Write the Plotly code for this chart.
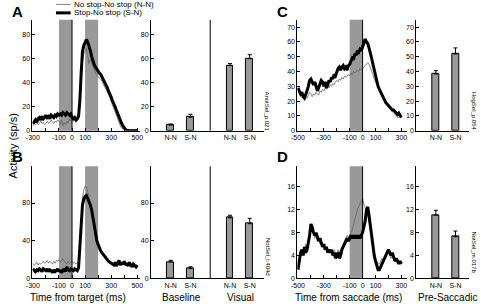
import plotly.graph_objects as go

W, H = 481, 307

# ---------------- data ----------------
t_target = list(range(-300, 501, 10))
t_sacc = list(range(-500, 301, 10))

A_SN = [6, 8, 9, 7, 10, 11, 9, 12, 10, 11, 13, 11, 12, 10, 13, 12, 11, 13, 12, 14,
        13, 14, 13, 15, 14, 13, 15, 14, 13, 14, 11, 10, 11, 9, 10, 12, 25, 48, 66, 71,
        73, 76, 74, 71, 67, 62, 58, 55, 53, 51, 50, 48, 47, 45, 43, 41, 39, 36, 33, 31,
        28, 25, 23, 20, 17, 14, 11, 8, 6, 4, 2, 1, 0.5, 0, 0, 0, 0, 0, 0, 0, 0]
A_NN = [4, 6, 5, 7, 5, 6, 8, 6, 7, 5, 6, 8, 6, 7, 9, 7, 6, 8, 7, 9,
        8, 5, 9, 4, 7, 5, 8, 6, 10, 8, 9, 8, 9, 7, 9, 10, 20, 40, 58, 64,
        67, 69, 63, 56, 60, 57, 54, 50, 48, 46, 45, 44, 43, 41, 39, 37, 35, 33, 30, 27,
        24, 21, 18, 15, 12, 9, 6, 4, 2, 1.5, 1, 1, 1, 1, 1, 1, 1, 1, 1, 1, 1]

B_SN = [10, 8, 7, 9, 8, 10, 9, 7, 10, 9, 8, 10, 7, 9, 8, 6, 9, 7, 8, 10,
        7, 9, 6, 8, 10, 7, 12, 9, 8, 10, 9, 8, 10, 9, 8, 11, 30, 60, 78, 84,
        87, 88, 85, 82, 78, 73, 65, 55, 47, 40, 36, 32, 29, 27, 25, 24, 22, 20, 18, 17,
        16, 15, 14, 17, 13, 16, 19, 14, 17, 15, 18, 14, 16, 13, 17, 14, 12, 15, 13, 12, 14]
B_NN = [16, 14, 15, 17, 14, 16, 15, 17, 18, 16, 17, 19, 16, 18, 17, 15, 18, 16, 19, 18,
        20, 17, 19, 21, 18, 17, 15, 18, 16, 17, 18, 16, 17, 15, 17, 18, 35, 65, 85, 94,
        98, 97, 93, 87, 80, 74, 66, 57, 49, 42, 37, 33, 30, 27, 25, 23, 21, 20, 19, 17,
        16, 15, 14, 16, 15, 14, 16, 17, 15, 14, 16, 15, 14, 13, 15, 14, 13, 12, 13, 12, 11]

C_SN = [29, 27, 25, 26, 23, 22, 24, 27, 30, 34, 35, 33, 31, 33, 30, 27, 29, 32, 34, 33,
        30, 33, 29, 31, 34, 33, 36, 35, 38, 37, 40, 42, 43, 41, 43, 44, 42, 43, 41, 44,
        45, 47, 49, 48, 52, 51, 54, 53, 55, 54, 57, 60, 62, 60, 59, 56, 53, 49, 45, 41,
        38, 34, 30, 28, 26, 25, 23, 21, 19, 18, 17, 16, 15, 14, 14, 13, 12, 11, 12, 10, 9]
C_NN = [27, 25, 23, 24, 22, 21, 23, 22, 24, 26, 25, 23, 25, 24, 26, 25, 24, 27, 26, 28,
        27, 29, 28, 30, 29, 31, 30, 32, 31, 33, 34, 33, 35, 34, 36, 35, 37, 36, 37, 38,
        37, 39, 38, 40, 39, 40, 41, 40, 42, 41, 42, 43, 44, 45, 46, 45, 43, 41, 38, 35,
        33, 31, 29, 27, 25, 23, 21, 20, 18, 17, 16, 15, 14, 13, 12, 11, 10, 9, 9, 10, 9]

D_SN = [1.5, 3, 4.5, 5, 4, 5.5, 4.5, 5, 6, 7.5, 9.5, 9, 8, 7.5, 8, 7, 6.5, 7, 6, 5.5,
        6, 5, 5.5, 4.5, 5, 4.5, 5, 4, 4.5, 3.5, 4, 4.5, 3.5, 4, 5, 5.5, 6, 6.5, 7, 6.5,
        7, 7.5, 7, 7.5, 7, 7.5, 7, 7.5, 7, 7.5, 8, 9, 10, 12, 12.5, 11, 9, 7, 5.5, 4,
        3, 2, 1.5, 1.5, 2, 2.5, 3, 3.5, 4, 4.5, 5, 4.5, 4, 4.5, 3.5, 3, 3.5, 3, 2.5, 3, 2.5]
D_NN = [3, 2.5, 4, 5, 4.5, 5, 6, 5.5, 6.5, 8, 9, 8.5, 8, 7, 7.5, 6.5, 7, 6, 6.5, 5.5,
        6, 5, 5.5, 5, 4.5, 5, 4.5, 4, 5, 4.5, 4, 5, 4.5, 5, 5.5, 6, 6.5, 7, 7.5, 7,
        7.5, 8, 8.5, 9.5, 10.5, 11, 12, 12.5, 13, 13.5, 14, 13, 12, 11.5, 11, 10, 8.5, 7, 5.5, 4.5,
        3.5, 3, 2.5, 2.5, 3, 3.5, 3, 3.5, 4, 4.5, 4.5, 4, 3.5, 4, 3.5, 3, 3, 3.5, 3, 2.5, 2.5]

bar_cats = ["N-N", "S-N"]
A_base = [4.7, 11.3]; A_base_err = [0.8, 2.4]
A_vis = [54.3, 60.1]; A_vis_err = [1.7, 3.3]
B_base = [17.4, 10.4]; B_base_err = [1.7, 1.8]
B_vis = [64.3, 58.0]; B_vis_err = [2.7, 5.7]
C_pre = [38.4, 51.9]; C_pre_err = [2.2, 4.1]
D_pre = [11.05, 7.27]; D_pre_err = [0.85, 1.0]

target_ticks = list(range(-300, 501, 100))
target_labels = ["-300", "", "-100", "0", "100", "", "300", "", "500"]
sacc_ticks = list(range(-500, 301, 100))
sacc_labels = ["-500", "", "-300", "", "-100", "0", "100", "", "300"]

# ---------------- layout geometry (pixels) ----------------
def px(x):
    return x / W

def py(y):
    return 1 - y / H

TOP = (20, 132)
BOT = (168, 281)
FONT = "Liberation Sans, Arial, sans-serif"
GRAY_BAND = "#999999"
BAR_FILL = "#999999"
THIN = "#666666"

fig = go.Figure()

def time_traces(i, t, nn, sn):
    ax = "" if i == 1 else str(i)
    fig.add_trace(go.Scatter(x=t, y=nn, mode="lines", line=dict(color=THIN, width=0.8),
                             name="No stop-No stop (N-N)", showlegend=False,
                             xaxis="x" + ax, yaxis="y" + ax))
    fig.add_trace(go.Scatter(x=t, y=sn, mode="lines", line=dict(color="black", width=3),
                             name="Stop-No stop (S-N)", showlegend=False,
                             xaxis="x" + ax, yaxis="y" + ax))

def bar_traces(i, positions, vals, errs):
    ax = str(i)
    fig.add_trace(go.Bar(x=positions, y=vals, width=0.35,
                         marker=dict(color=BAR_FILL, line=dict(color="black", width=1)),
                         error_y=dict(type="data", array=errs, arrayminus=[0] * len(errs),
                                      symmetric=False, color="black", thickness=1, width=2),
                         showlegend=False, xaxis="x" + ax, yaxis="y" + ax))

time_traces(1, t_target, A_NN, A_SN)
bar_traces(2, [1, 2, 4, 5], A_base + A_vis, A_base_err + A_vis_err)
time_traces(3, t_sacc, C_NN, C_SN)
bar_traces(4, [1, 2], C_pre, C_pre_err)
time_traces(5, t_target, B_NN, B_SN)
bar_traces(6, [1, 2, 4, 5], B_base + B_vis, B_base_err + B_vis_err)
time_traces(7, t_sacc, D_NN, D_SN)
bar_traces(8, [1, 2], D_pre, D_pre_err)

tickfont = dict(family=FONT, size=7, color="black")

def xaxis(dom, rng, tickvals, ticktext, ticks="inside"):
    return dict(domain=[px(dom[0]), px(dom[1])], range=rng, tickvals=tickvals, ticktext=ticktext,
                showline=True, linecolor="black", linewidth=1, ticks=ticks, ticklen=3,
                tickcolor="black", showgrid=False, zeroline=False, tickfont=tickfont,
                fixedrange=True)

def yaxis(dom, rng, tickvals, anchor):
    return dict(domain=[py(dom[1]), py(dom[0])], range=rng, tickvals=tickvals,
                showline=True, linecolor="black", linewidth=1, ticks="inside", ticklen=3,
                tickcolor="black", showgrid=False, zeroline=False, tickfont=tickfont,
                anchor=anchor, fixedrange=True)

yA = [0, 92.5]; yB = [0, 119]; yC = [0, 75]; yD = [0, 19.6]
tA = [0, 20, 40, 60, 80]; tB = [0, 40, 80]; tC = list(range(0, 71, 10)); tD = [0, 4, 8, 12, 16]

fig.update_layout(
    xaxis=dict(xaxis((26, 136), [-303, 522], target_ticks, target_labels), anchor="y"),
    yaxis=yaxis(TOP, yA, tA, "x"),
    xaxis2=dict(xaxis((147, 262), [0, 5.7], [1, 2, 4, 5], bar_cats * 2, ticks=""), anchor="y2"),
    yaxis2=yaxis(TOP, yA, tA, "x2"),
    xaxis3=dict(xaxis((296.5, 408), [-505, 340], sacc_ticks, sacc_labels), anchor="y3"),
    yaxis3=yaxis(TOP, yC, tC, "x3"),
    xaxis4=dict(xaxis((418, 472), [0, 2.7], [1, 2], bar_cats, ticks=""), anchor="y4"),
    yaxis4=yaxis(TOP, yC, tC, "x4"),
    xaxis5=dict(xaxis((26, 136), [-303, 522], target_ticks, target_labels), anchor="y5"),
    yaxis5=yaxis(BOT, yB, tB, "x5"),
    xaxis6=dict(xaxis((147, 262), [0, 5.7], [1, 2, 4, 5], bar_cats * 2, ticks=""), anchor="y6"),
    yaxis6=yaxis(BOT, yB, tB, "x6"),
    xaxis7=dict(xaxis((296.5, 408), [-505, 340], sacc_ticks, sacc_labels), anchor="y7"),
    yaxis7=yaxis(BOT, yD, tD, "x7"),
    xaxis8=dict(xaxis((418, 472), [0, 2.7], [1, 2], bar_cats, ticks=""), anchor="y8"),
    yaxis8=yaxis(BOT, yD, tD, "x8"),
)

shapes = []
# gray epochs and zero lines in time panels
for ax, bands in (("", [(-100, 0), (100, 200)]), ("3", [(-100, 0)]),
                  ("5", [(-100, 0), (100, 200)]), ("7", [(-100, 0)])):
    for b0, b1 in bands:
        shapes.append(dict(type="rect", xref="x" + ax, yref=("y" + ax) + " domain",
                           x0=b0, x1=b1, y0=0, y1=1, fillcolor=GRAY_BAND,
                           line=dict(width=0), layer="below"))
    shapes.append(dict(type="line", xref="x" + ax, yref=("y" + ax) + " domain",
                       x0=0, x1=0, y0=0, y1=1, line=dict(color="black", width=1), layer="above"))
# separator between Baseline and Visual
for ax in ("2", "6"):
    shapes.append(dict(type="line", xref="x" + ax, yref="y" + ax + " domain",
                       x0=3, x1=3, y0=0, y1=1, line=dict(color="black", width=1)))
# legend key samples
shapes.append(dict(type="line", xref="paper", yref="paper", x0=px(50), x1=px(65), y0=py(4.5), y1=py(4.5),
                   line=dict(color=THIN, width=0.8)))
shapes.append(dict(type="line", xref="paper", yref="paper", x0=px(50), x1=px(65), y0=py(13), y1=py(13),
                   line=dict(color="black", width=3)))
fig.update_layout(shapes=shapes)

ann = []
def text(x, y, s, size, bold=False, angle=0, xanchor="center", yanchor="middle"):
    ann.append(dict(x=px(x), y=py(y), xref="paper", yref="paper", text=("<b>%s</b>" % s) if bold else s,
                    showarrow=False, textangle=angle, xanchor=xanchor, yanchor=yanchor,
                    font=dict(family=FONT, size=size, color="black")))

text(11, 12, "A", 15, bold=True)
text(11, 158, "B", 15, bold=True)
text(281, 12, "C", 15, bold=True)
text(281, 158, "D", 15, bold=True)
text(66, 4.5, "No stop-No stop (N-N)", 8, xanchor="left")
text(66, 13, "Stop-No stop (S-N)", 8, xanchor="left")
text(73, 300, "Time from target (ms)", 10)
text(178, 300, "Baseline", 10)
text(238, 300, "Visual", 10)
text(349, 300, "Time from saccade (ms)", 10)
text(450, 300, "Pre-Saccadic", 10)
text(6, 147, "Activity (sp/s)", 11, angle=-90)
text(266, 113, "AnotSel_p.021", 6, angle=90)
text(266, 260, "NotSel_l.404d", 6, angle=90)
text(477, 112, "HogSel_p.054", 6, angle=90)
text(477, 255, "NotSel_m.017b", 6, angle=90)
fig.update_layout(annotations=ann)

fig.update_layout(
    width=W, height=H, margin=dict(l=0, r=0, t=0, b=0),
    paper_bgcolor="white", plot_bgcolor="white",
    bargap=0, showlegend=False,
)

fig.write_html("out.html", config={"displayModeBar": False},
               post_script="document.body.style.margin='0';document.body.style.overflow='hidden';")
